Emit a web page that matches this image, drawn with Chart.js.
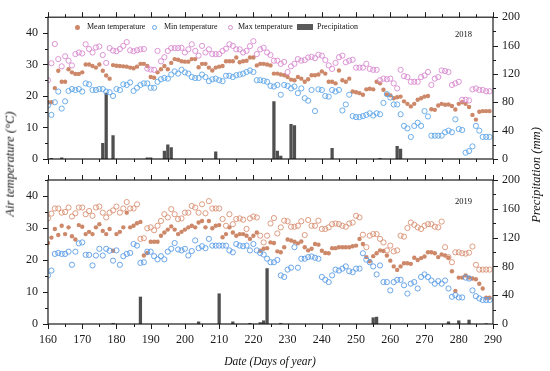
<!DOCTYPE html>
<html><head><meta charset="utf-8">
<script src="https://cdn.jsdelivr.net/npm/chart.js@4.4.1/dist/chart.umd.min.js"></script>
<style>
html,body{margin:0;padding:0;background:#fff;}
#wrap{position:relative;width:550px;height:371px;overflow:hidden;font-family:"Liberation Serif","Times New Roman",serif;color:#111;}
canvas{position:absolute;left:0;top:0;}
.t{position:absolute;white-space:nowrap;line-height:1;}
.dot{position:absolute;border-radius:50%;box-sizing:border-box;}
</style></head><body>
<div id="wrap">
<canvas id="c1" width="550" height="371"></canvas>
<canvas id="c2" width="550" height="371"></canvas>
<div class="dot" style="left:75px;top:25px;width:4.6px;height:4.6px;background:#cd8869;"></div>
<div class="t" style="left:87px;top:23px;font-size:8px;">Mean temperature</div>
<div class="dot" style="left:151.5px;top:24.5px;width:5.6px;height:5.6px;border:1px solid #5fa6e8;"></div>
<div class="t" style="left:164px;top:23px;font-size:8px;">Min temperature</div>
<div class="dot" style="left:227.5px;top:24.5px;width:5.6px;height:5.6px;border:1px solid #d98ad0;"></div>
<div class="t" style="left:238px;top:23px;font-size:8px;">Max temperature</div>
<div style="position:absolute;left:297px;top:24px;width:16px;height:5.5px;background:#5a5a5a;"></div>
<div class="t" style="left:317px;top:23px;font-size:8px;">Precipitation</div>
<div class="t" style="left:455px;top:30px;font-size:8.5px;">2018</div>
<div class="t" style="left:455px;top:197px;font-size:8.5px;">2019</div>
<div class="t" style="left:270px;top:362px;font-size:11.5px;font-style:italic;transform:translate(-50%,-50%);">Date (Days of year)</div>
<div class="t" style="left:10px;top:164px;font-size:12.6px;font-style:italic;transform:translate(-50%,-50%) rotate(-90deg);">Air temperature (°C)</div>
<div class="t" style="left:536px;top:175px;font-size:12.6px;font-style:italic;transform:translate(-50%,-50%) rotate(-90deg);">Precipitation (mm)</div>
</div>
<script>
const startDay = 160;

const mean2018 = [18,18,22.5,28,24.5,24.5,28.5,27.5,27,27,
 27.5,30,30,29.5,29,30,28,26.5,25.5,29.8,
 29.6,29.5,29.4,29.3,29,28.8,29.3,30.2,30.2,29.5,
 26,25.8,27.5,28.5,29.5,28.5,30.5,31.7,31.5,31,
 30.9,30.9,31.7,31.7,29.1,30.2,30.2,29,28.1,29,
 29.3,29.5,31,31,31,32.2,30.7,31,31.2,32.2,
 32.2,29.7,30.2,30.2,30,29.7,27.1,27.1,26.8,26.6,
 26,25.2,25,26,25.5,24.5,25.3,26.6,26.6,26.8,
 27.8,27.1,24.5,24.5,24,28.1,25,24.5,25.5,21.4,
 21.2,20.9,20.4,22.1,22.3,22.1,24.5,24,22,20.5,
 20.2,19.3,19.6,19.8,18.3,17.5,16.7,17.5,18.8,19.3,
 19.8,20,15.8,15.6,17,17.5,17.2,17.3,16.8,15.7,
 17.5,18,17.5,16.5,14,12.5,15,15.2,15.2,15.2];

const max2018 = [25,30.4,36.5,31.7,29.4,32.6,31.2,29.7,33.3,33.8,
 33.5,36.4,34.9,33.8,35.4,35.7,33,30.5,35.2,34.4,
 34.2,34.9,35.9,37.1,34.5,34.2,34.5,34.8,34.9,28.7,
 28.4,28.3,34.3,31,32.3,34.3,35.2,35.2,35.2,35.3,
 33.8,34.8,36.4,34.3,32.8,35.9,33.8,34.8,33.3,33.3,
 33.3,34.3,35,36.4,35.9,34.8,34.8,33.8,34.3,35.8,
 37.4,33.3,34.8,35.3,33.8,33,31.2,31.2,30.2,30.8,
 27.6,29.4,30.2,31.7,31.2,31.4,32.2,32.4,32,33.1,
 32.8,31.4,29.7,28.6,30.5,32.3,32.8,30.7,31.2,31.5,
 29,29,29,30.2,28.6,28.3,28.3,25,25.5,25.3,
 25.5,24,22.4,28.3,26.3,26,24.5,24.5,24.5,26,
 26.5,27.6,23.5,25.5,26,28.1,27.9,27.6,23.5,24,
 24.5,18.8,18.8,18.6,22.1,22.4,21.9,21.9,21.5,21.5];

const min2018 = [17,14,18,21.4,16,18.3,21.6,22.2,21.9,22.2,
 21.4,24,23.7,21.9,21.9,22.2,22.2,21.4,21.2,20,
 22.2,21.9,23.7,23.5,24.3,21.6,22.6,23.5,24,24,
 22.6,22.6,24.5,25.3,25.7,25.5,26.8,27.8,27.1,28.3,
 27.5,27.1,26,25.7,25.7,26.8,26,24.7,25.3,25.5,
 25,24.7,26.4,26.4,26,26.6,26.8,27.1,27.6,28.1,
 27.6,25,25,24.8,24.5,23.2,23,23.5,20.4,23.5,
 23.2,22.4,23,20.9,22.4,19.3,18.5,21.9,15.2,22.1,
 21.9,20,19.8,21.9,21.4,21.9,15.4,17.3,20.4,13.6,
 13.3,13.3,13.6,14,14.5,13.8,14.5,14.2,17.8,20.6,
 19.5,17.3,17.3,14.2,10.5,9.7,7,10.5,11.5,10.5,
 15.2,13.5,7.4,7.4,7.4,7.4,8.5,9,8.5,12.6,
 9.5,9.2,2,2.5,4,10.5,9,7,7,7];

const mean2019 = [25.3,27,29.7,27.8,30.7,28.1,30.2,27.4,26.4,30.9,
 30.4,28.1,28.8,28.1,30.2,31.2,29.1,28.1,29.7,22.9,
 28.1,28.8,30.2,34.8,30.2,30.7,31.5,31.9,21.4,22.2,
 25.7,25.7,25.7,27.6,28.6,29.5,30.5,29.5,28.1,28.8,
 29.5,30.2,30.7,30.2,31.7,32.2,30.2,32.2,29.9,30.7,
 30.9,27.1,28.1,30.2,28.6,27.6,28.1,28.1,27.6,26.6,
 27.6,28.6,22.9,23.5,23.7,25.5,25.3,22.7,22.4,24,
 26.4,26.1,25.7,25.2,25.8,24,23,23.5,25,24.8,
 22.9,22.2,22.1,23.7,23.7,24,24,24,24,24.3,
 24.5,26.6,25,20.9,19.6,21.2,22.1,23,22.8,21.4,
 19.8,18,16.9,18,19,19,18.8,20.7,20,20.6,
 21.1,22.4,22.4,22.1,20.9,21.7,21.4,20.7,16.5,10.3,
 14.5,14.5,15.2,14.5,14.2,14,12.6,11.1,8.2,8.2];

const max2019 = [33,34.5,36.1,36.1,34.8,35,36.4,33.6,34.6,36.4,
 36.4,34.3,35.3,33.8,36.4,36.7,34.8,33.3,34.8,35.5,
 36.7,34.8,36.1,38.1,36.1,36.1,37.4,26.6,26.8,29.9,
 30.2,29.3,30.7,32.2,34.3,33.3,35.9,34.3,32.8,33,
 34.8,34.8,36.9,36.4,34.8,37.4,34.6,38.4,36.1,36.1,
 36.1,32.8,30.7,34.3,31.2,32.8,33,32.6,29.7,33,
 33.6,33.3,27.6,25.5,27.6,31.4,33.1,28.3,30.2,32.3,
 32.1,30.4,30.4,30.7,32.1,27.8,32.5,30.7,30.7,32.3,
 29.7,29.7,30.2,31.2,31.4,31.2,30.7,30.4,31.4,31.7,
 33.8,33.3,27.9,24,27.6,28.1,28.1,26.6,25.5,23,
 24.5,22.7,23,27.6,27.3,30,31.7,31,30.2,29.7,
 30.7,31.2,31.2,30.4,30.2,32,24,20.9,19.3,22.4,
 22.4,22.1,22,22.3,24.2,18.5,17,17,17,17];

const min2019 = [15.2,16.7,21.9,22.2,21.9,21.9,22.6,18.5,22.6,25.2,
 25.5,21.6,21.6,18.3,21.4,23.5,21.4,23.5,22.9,19.8,
 23,18.5,21.2,21.9,22.2,25,24.5,19.1,19.3,22.6,
 22.6,21.2,20.2,21.2,20.2,22.6,23.5,25.3,23.3,23,
 23.5,21.4,22.8,26.1,23.7,24.3,23.7,26.6,24.5,24.5,
 24.5,24.5,24.5,23,22.4,25,24.5,24.3,24.5,23,
 25,23,22.2,21.7,20.4,19.3,19.3,20,15.2,14.7,
 17,17.6,24,17.6,20.4,20.4,20.9,21.1,20.7,20.4,
 14.7,13.8,13.1,15.2,17,16.7,17.3,18,16.5,16.2,
 17.3,17.3,22.1,20.1,19.3,18,15.5,18.3,13.1,13.1,
 10.5,13.1,13.8,13.8,12.1,9.5,12.6,13.1,11.1,14.7,
 15.5,14.7,13.6,12.6,13.4,12.6,13.6,11.1,8.5,9,
 8.3,8.3,14.5,14.2,10.5,8.7,8,7.5,7.5,7.5];

const precipDays2018 = [161,164,176,177,179,189,190,194,195,196,209,226,227,228,231,232,243,257,262,263];
const precipVals2018 = [1,1.5,22,93,33,1.5,1.5,11,20,16,10,81,11,4,49,47,15,1,18,14];
const precipDays2019 = [179,187,204,210,214,219,222,223,224,228,255,256,277,280,283,288];
const precipVals2019 = [1,37.5,3,42,3,1,2,4.5,77,1,8.7,9.6,3,4.5,5.5,0.5];

const xTickLabels = [160,170,180,190,200,210,220,230,240,250,260,270,280,290];

const FONT = "'Liberation Serif','Times New Roman',serif";
const INK = '#1a1a1a';

function pts(arr){ return arr.map((v,i)=>({x:startDay+i, y:v})); }
function bars(days, vals){ return days.map((d,i)=>({x:d, y:vals[i]})); }

const frameTicks = {
  id:'frameTicks',
  afterDraw(chart){
    const {ctx, chartArea:a, scales} = chart;
    ctx.save();
    ctx.strokeStyle = INK;
    ctx.lineWidth = 1.2;
    ctx.strokeRect(a.left, a.top, a.right-a.left, a.bottom-a.top);
    ctx.lineWidth = 1;
    const line=(x1,y1,x2,y2)=>{ctx.beginPath();ctx.moveTo(x1,y1);ctx.lineTo(x2,y2);ctx.stroke();};
    for(let d=160; d<=290; d+=5){
      const x = Math.round(scales.x.getPixelForValue(d))+0.5;
      const L = d%10===0?5:3;
      line(x,a.bottom,x,a.bottom+L);
      line(x,a.top,x,a.top-L);
    }
    for(let v=0; v<=45; v+=5){
      const y = Math.round(scales.y.getPixelForValue(v))+0.5;
      const L = v%10===0?5:3;
      line(a.left-L,y,a.left,y);
    }
    for(let v=0; v<=200; v+=20){
      const y = Math.round(scales.y2.getPixelForValue(v))+0.5;
      const L = v%40===0?5:3;
      line(a.right,y,a.right+L,y);
    }
    ctx.restore();
  }
};

function makeChart(id, isTop, meanA, minA, maxA, pDays, pVals, minColor, maxColor){
  return new Chart(document.getElementById(id), {
    type:'scatter',
    data:{datasets:[
      {label:'Min temperature', data:pts(minA), pointStyle:'circle', pointRadius:2.6, pointBorderWidth:0.9,
       borderColor:minColor, backgroundColor:'rgba(0,0,0,0)', yAxisID:'y'},
      {label:'Max temperature', data:pts(maxA), pointStyle:'circle', pointRadius:2.6, pointBorderWidth:0.9,
       borderColor:maxColor, backgroundColor:'rgba(0,0,0,0)', yAxisID:'y'},
      {label:'Mean temperature', data:pts(meanA), pointStyle:'circle', pointRadius:2.2, pointBorderWidth:0,
       borderColor:'#cd8869', backgroundColor:'#cd8869', yAxisID:'y'},
      {type:'bar', label:'Precipitation', data:bars(pDays,pVals), yAxisID:'y2', xAxisID:'x',
       barThickness:2.6, backgroundColor:'#4f4f4f', borderWidth:0}
    ]},
    options:{
      responsive:false, animation:false, devicePixelRatio:1,
      layout:{padding:{left:0,right:0,top:isTop?15:180,bottom:0}},
      plugins:{legend:{display:false}, tooltip:{enabled:false}},
      scales:{
        x:{type:'linear', min:160, max:290, offset:false, position:'bottom',
           grid:{display:false, drawTicks:false}, border:{display:false},
           ticks:{display:!isTop, stepSize:10, autoSkip:false, maxRotation:0, padding:9, color:INK,
                  font:{family:FONT, size:12},
                  callback:(v)=> xTickLabels.includes(v) ? String(v) : ''},
           afterFit:(s)=>{ s.height = isTop ? (371-159) : (371-324); }},
        y:{type:'linear', position:'left', min:0, max:45,
           grid:{display:false, drawTicks:false}, border:{display:false},
           ticks:{stepSize:10, padding:10, color:INK, font:{family:FONT, size:12},
                  callback:(v)=> v<=40 && v%10===0 ? String(v) : ''},
           afterFit:(s)=>{ s.width = 48; }},
        y2:{type:'linear', position:'right', min:0, max:200,
           grid:{display:false, drawTicks:false}, border:{display:false},
           ticks:{stepSize:40, padding:9, color:INK, font:{family:FONT, size:12}},
           afterFit:(s)=>{ s.width = 57; }}
      }
    },
    plugins:[frameTicks]
  });
}

makeChart('c1', true, mean2018, min2018, max2018, precipDays2018, precipVals2018, '#5fa6e8', '#d98ad0');
makeChart('c2', false, mean2019, min2019, max2019, precipDays2019, precipVals2019, '#5c9de6', '#d99275');
</script>
</body></html>
